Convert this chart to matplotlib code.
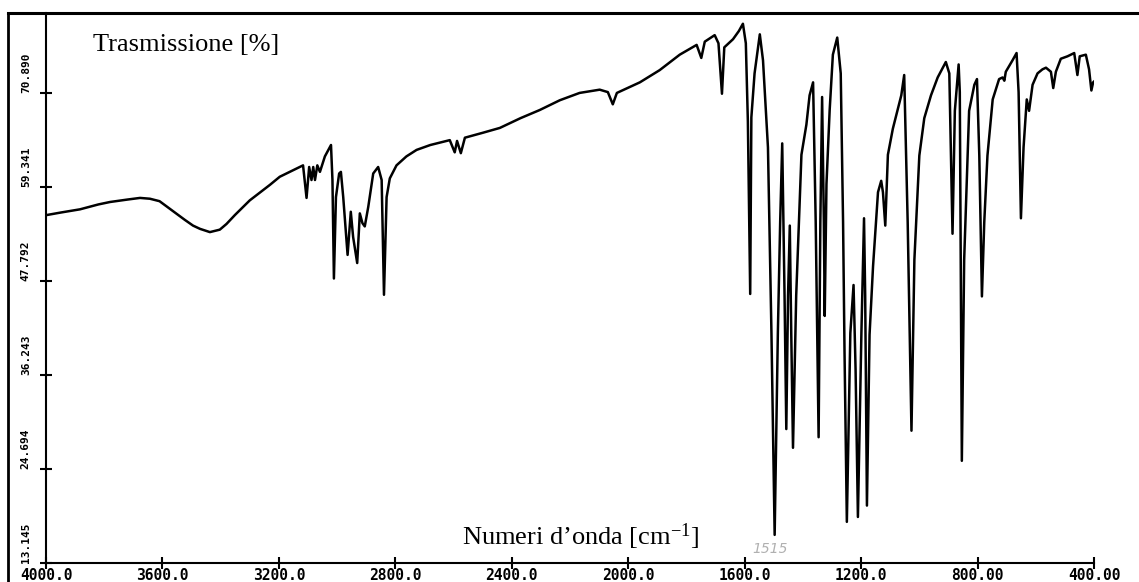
import matplotlib
matplotlib.use("Agg")
import matplotlib.pyplot as plt
from matplotlib.lines import Line2D

# ---- data (wavenumber [cm-1], transmission [%]) ----
wavenumber = [
    3997, 3950, 3883, 3820, 3780, 3720, 3677, 3643, 3610, 3591, 3560, 3523, 3495,
    3471, 3437, 3403, 3380, 3351, 3300, 3260, 3231, 3197, 3151, 3117, 3105, 3096,
    3088, 3082, 3076, 3068, 3059, 3042, 3021, 3016, 3011, 3004, 2993, 2987, 2979,
    2964, 2953, 2945, 2931, 2922, 2913, 2905, 2893, 2876, 2859, 2847, 2839, 2830,
    2819, 2796, 2762, 2727, 2680, 2613, 2596, 2588, 2575, 2561, 2500, 2441, 2370,
    2304, 2235, 2167, 2098, 2070, 2053, 2039, 1960, 1892, 1823, 1765, 1749, 1737,
    1703, 1690, 1678, 1670, 1640, 1620, 1606, 1596, 1589, 1581, 1577, 1566, 1548,
    1537, 1520, 1508, 1497, 1486, 1478, 1471, 1463, 1457, 1451, 1445, 1440, 1434,
    1423, 1405, 1388, 1377, 1365, 1356, 1346, 1340, 1334, 1328, 1325, 1319, 1308,
    1297, 1282, 1270, 1262, 1257, 1249, 1237, 1226, 1219, 1211, 1199, 1190, 1186,
    1180, 1171, 1159, 1142, 1131, 1125, 1117, 1108, 1091, 1062, 1052, 1040, 1027,
    1017, 1000, 983, 960, 937, 909, 897, 886, 878, 865, 861, 854, 846, 837, 829,
    811, 802, 794, 785, 777, 766, 748, 726, 714, 708, 703, 680, 666, 659, 651, 642,
    631, 623, 611, 594, 577, 565, 548, 540, 531, 514, 491, 468, 457, 449, 428, 417,
    409, 403, 397,
]
transmission = [
    55.9, 56.2, 56.6, 57.2, 57.5, 57.8, 58.0, 57.9, 57.6, 57.1, 56.3, 55.3, 54.6,
    54.2, 53.8, 54.1, 54.8, 55.9, 57.7, 58.8, 59.6, 60.6, 61.4, 62.0, 58.0, 61.8,
    60.2, 61.8, 60.2, 62.0, 61.2, 63.1, 64.5, 60.2, 48.1, 58.1, 61.0, 61.2, 58.1,
    51.0, 56.3, 53.2, 50.0, 56.1, 54.9, 54.5, 56.9, 61.0, 61.8, 60.2, 46.1, 58.1,
    60.4, 62.0, 63.1, 63.9, 64.5, 65.1, 63.6, 65.0, 63.5, 65.4, 66.0, 66.6, 67.8,
    68.8, 70.0, 70.9, 71.3, 71.0, 69.5, 70.9, 72.2, 73.7, 75.6, 76.8, 75.2, 77.2,
    78.0, 77.0, 70.8, 76.5, 77.5, 78.5, 79.4, 77.0, 67.4, 46.2, 67.9, 73.3, 78.1,
    74.9, 64.2, 41.4, 16.6, 41.4, 55.1, 64.7, 46.0, 29.6, 46.0, 54.6, 41.4, 27.3,
    46.0, 63.3, 67.0, 70.6, 72.2, 55.1, 28.6, 55.1, 70.4, 55.1, 43.5, 59.7, 68.8,
    75.6, 77.7, 73.3, 55.1, 39.1, 18.2, 41.4, 47.3, 36.9, 18.8, 41.4, 55.5, 46.0,
    20.2, 41.2, 49.6, 58.7, 60.1, 58.7, 54.6, 63.3, 66.5, 70.6, 73.1, 55.0, 29.4,
    50.4, 63.2, 67.8, 70.6, 72.8, 74.7, 73.3, 53.6, 68.7, 74.4, 71.0, 25.7, 50.4,
    60.0, 68.7, 71.9, 72.6, 63.2, 45.9, 55.0, 63.2, 70.1, 72.6, 72.8, 72.4, 73.5,
    74.9, 75.8, 71.0, 55.5, 64.2, 70.1, 68.7, 71.9, 73.3, 73.8, 74.0, 73.5, 71.5,
    73.5, 75.1, 75.4, 75.8, 73.1, 75.4, 75.6, 73.8, 71.2, 72.2, 72.4,
]

x_ticks = [4000, 3600, 3200, 2800, 2400, 2000, 1600, 1200, 800, 400]
x_tick_labels = ["4000.0", "3600.0", "3200.0", "2800.0", "2400.0",
                 "2000.0", "1600.0", "1200.0", "800.00", "400.00"]
y_ticks = [13.145, 24.694, 36.243, 47.792, 59.341, 70.890]
y_tick_labels = ["13.145", "24.694", "36.243", "47.792", "59.341", "70.890"]

W, H = 1139, 582
plt.rcParams["mathtext.fontset"] = "custom"
plt.rcParams["mathtext.rm"] = "Liberation Serif"
plt.rcParams["mathtext.it"] = "Liberation Serif:italic"
fig = plt.figure(figsize=(W / 100, H / 100), dpi=100)
fig.patch.set_facecolor("white")

ax = fig.add_axes([46 / W, 19 / H, (1094 - 46) / W, 550 / H])
ax.plot(wavenumber, transmission, color="black", lw=1.8, solid_joinstyle="round")
ax.set_xlim(4000, 400)
ax.set_ylim(13.145, 80.72)

for s in ("top", "right"):
    ax.spines[s].set_visible(False)
for s in ("left", "bottom"):
    ax.spines[s].set_linewidth(1.5)

ax.set_xticks(x_ticks, labels=x_tick_labels)
ax.set_yticks(y_ticks, labels=y_tick_labels)
ax.tick_params(axis="x", direction="inout", length=8.6, width=1.5, pad=-0.5)
ax.tick_params(axis="y", direction="inout", length=9.0, width=1.5, pad=10)
for lab in ax.get_xticklabels():
    lab.set_fontfamily("DejaVu Sans Mono")
    lab.set_fontweight("bold")
    lab.set_fontsize(10.5)
for lab in ax.get_yticklabels():
    lab.set_fontfamily("DejaVu Sans Mono")
    lab.set_fontweight("bold")
    lab.set_fontsize(8)
    lab.set_rotation(90)
    lab.set_ha("center")
    lab.set_va("bottom")

# outer frame of the scanned sheet
fig.add_artist(Line2D([8 / W, 1.0], [1 - 13 / H, 1 - 13 / H], transform=fig.transFigure,
                      color="black", lw=2.2))
fig.add_artist(Line2D([8 / W, 8 / W], [0, 1 - 13 / H], transform=fig.transFigure,
                      color="black", lw=2.0))

fig.text(93 / W, 1 - 45 / H, "Trasmissione [%]", fontfamily="Liberation Serif",
         fontsize=19, ha="left", va="center")
fig.text(581 / W, 1 - 545 / H, "Numeri d’onda [cm$^{\\mathrm{-1}}$]",
         fontfamily="Liberation Serif", fontsize=19, ha="center", va="baseline")
fig.text(770 / W, 1 - 549 / H, "1515", fontfamily="DejaVu Sans", fontstyle="italic",
         fontsize=10, color="#b0b0b0", ha="center", va="center")

fig.savefig("out.png", dpi=100, facecolor="white")
